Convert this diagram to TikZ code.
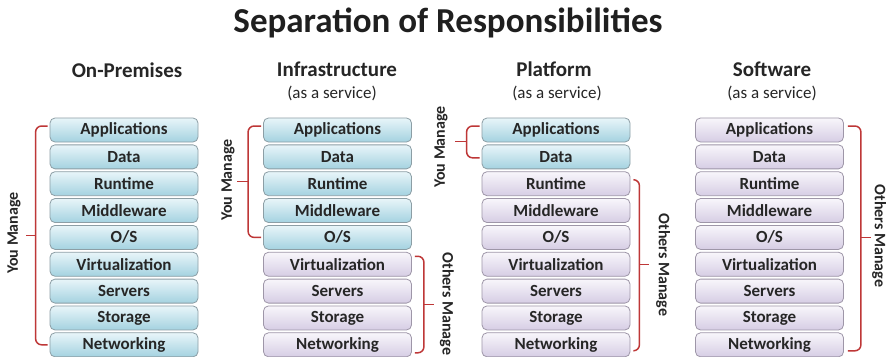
\documentclass[tikz,border=0pt]{standalone}
\usepackage{fontspec}
\setmainfont{Carlito}
\usetikzlibrary{calc}

\definecolor{bluetop}{RGB}{232,245,249}
\definecolor{bluebot}{RGB}{164,210,224}
\definecolor{blueedge}{RGB}{140,158,165}
\definecolor{violettop}{RGB}{248,246,251}
\definecolor{violetbot}{RGB}{214,205,228}
\definecolor{violetedge}{RGB}{158,150,168}
\definecolor{bracketred}{RGB}{190,55,55}

\tikzset{
  layer/.style={rounded corners=5pt, minimum width=148pt, minimum height=24pt,
    inner sep=0pt, line width=0.8pt, text=black!85,
    font=\bfseries\fontsize{17}{17}\selectfont},
  youlayer/.style={layer, top color=bluetop, bottom color=bluebot, draw=blueedge},
  otherlayer/.style={layer, top color=violettop, bottom color=violetbot, draw=violetedge},
  brace/.style={draw=bracketred, line width=1.5pt, rounded corners=6pt},
  sidelabel/.style={font=\bfseries\fontsize{16}{16}\selectfont, text=black!85, inner sep=0pt},
  head/.style={font=\bfseries\fontsize{21}{21}\selectfont, text=black!85, inner sep=0pt},
  subhead/.style={font=\fontsize{17}{17}\selectfont, text=black!85, inner sep=0pt},
  titletext/.style={font=\bfseries\fontsize{35}{35}\selectfont, text=black!88, inner sep=0pt}
}

\begin{document}
\begin{tikzpicture}[x=1pt,y=-1pt]
\useasboundingbox (0,0) rectangle (888,356);
\fill[white] (0,0) rectangle (888,356);

% title and column headings
\node[titletext] (title) at (448,23) {Separation of Responsibilities};
\node[head] (h1) at (127,70) {On-Premises};
\node[head] (h2) at (337,69) {Infrastructure};
\node[subhead] (s2) at (332,93) {(as a service)};
\node[head] (h3) at (554,69) {Platform};
\node[subhead] (s3) at (557,93) {(as a service)};
\node[head] (h4) at (772,69) {Software};
\node[subhead] (s4) at (772,93) {(as a service)};

% the stacks: the first \k layers of each column are user managed
\foreach \c/\x/\k in {1/124/9, 2/337.5/5, 3/556/2, 4/769.5/0} {
  \foreach \name/\txt [count=\i from 0] in {app/Applications, data/Data,
      rt/Runtime, mw/Middleware, os/{O/S}, virt/Virtualization,
      srv/Servers, sto/Storage, net/Networking} {
    \ifnum\i<\k \def\sty{youlayer}\else\def\sty{otherlayer}\fi
    \node[\sty] (c\c\name) at (\x,{130+26.85*\i}) {\txt};
  }
}

% On-Premises: everything user managed
\draw[brace] ($(c1app.west)+(-2,-4)$) -- ++(-12,0) |- ($(c1net.west)+(-2,0)$);
\coordinate (t1) at ($(c1app.west)!0.5!(c1net.west)+(-14,-2)$);
\draw[brace] (t1) -- ++(-10,0);
\node[sidelabel, rotate=90] (y1) at (14,233) {You Manage};

% Infrastructure as a service
\draw[brace] ($(c2app.west)+(-2,-4)$) -- ++(-13,0) |- ($(c2os.west)+(-2,0)$);
\coordinate (t2) at ($(c2app.west)!0.5!(c2os.west)+(-15,-2)$);
\draw[brace] (t2) -- ++(-11,0);
\node[sidelabel, rotate=90] (y2) at (228,180) {You Manage};
\draw[brace] ($(c2virt.east)+(3,-8)$) -- ++(9,0) |- ($(c2net.east)+(3,8)$);
\coordinate (u2) at ($(c2virt.east)!0.5!(c2net.east)+(12,0)$);
\draw[brace] (u2) -- ++(10,0);
\node[sidelabel, rotate=-90] (o2) at (447,304) {Others Manage};

% Platform as a service
\draw[brace] ($(c3app.west)+(-2,-4)$) -- ++(-13,0) |- ($(c3data.west)+(-2,1)$);
\coordinate (t3) at ($(c3app.west)!0.5!(c3data.west)+(-15,-2)$);
\draw[brace] (t3) -- ++(-12,0);
\node[sidelabel, rotate=90] (y3) at (441,147) {You Manage};
\draw[brace] ($(c3rt.east)+(3,-4)$) -- ++(6,0) |- ($(c3net.east)+(3,6)$);
\coordinate (u3) at ($(c3rt.east)!0.5!(c3net.east)+(9,0)$);
\draw[brace] (u3) -- ++(10,0);
\node[sidelabel, rotate=-90] (o3) at (663,265) {Others Manage};

% Software as a service: everything managed by others
\draw[brace] ($(c4app.east)+(4,-4)$) -- ++(13,0) |- ($(c4net.east)+(4,6)$);
\coordinate (u4) at ($(c4app.east)!0.5!(c4net.east)+(17,0)$);
\draw[brace] (u4) -- ++(10,0);
\node[sidelabel, rotate=-90] (o4) at (879,236) {Others Manage};
\end{tikzpicture}
\end{document}
